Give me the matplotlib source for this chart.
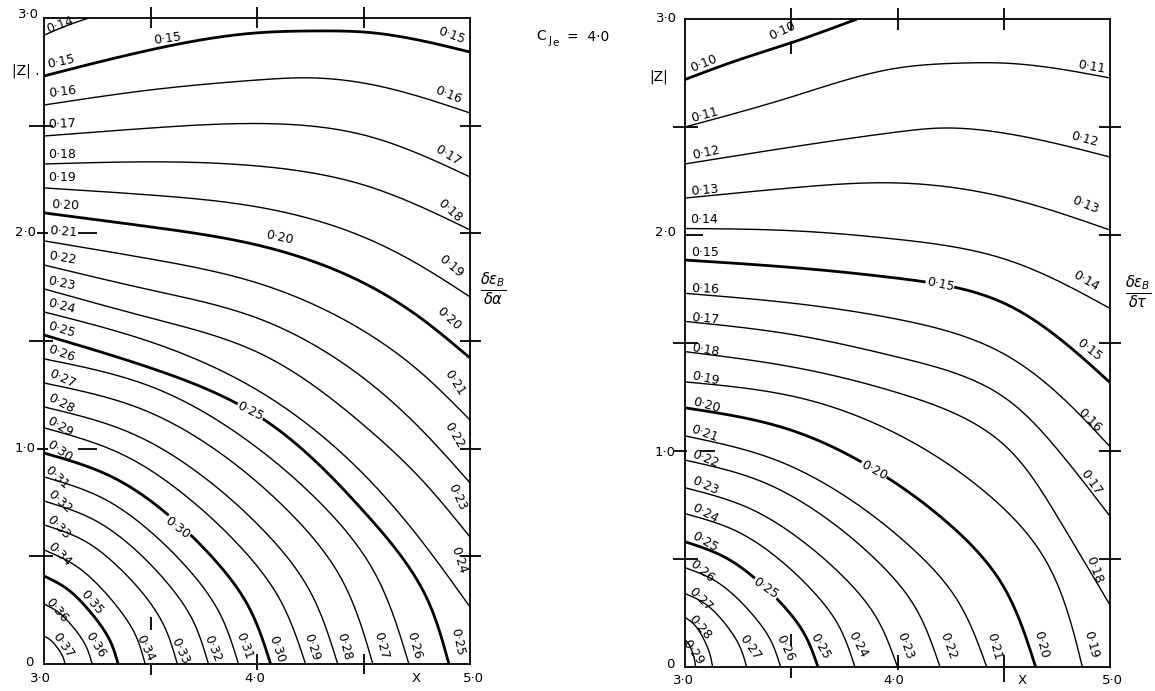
import numpy as np
import matplotlib
matplotlib.use("Agg")
import matplotlib.pyplot as plt

# ---------------------------------------------------------------------------
# Contour lines of d(eps_B)/d(alpha) (left) and d(eps_B)/d(tau) (right),
# C_Je = 4.0, over X = 3..5 and |Z| = 0..3.  Each level is traced by points
# (X, |Z|) along the curve.
# ---------------------------------------------------------------------------
LEFT_LEVELS = [0.14, 0.15, 0.16, 0.17, 0.18, 0.19, 0.20, 0.21, 0.22, 0.23,
               0.24, 0.25, 0.26, 0.27, 0.28, 0.29, 0.30, 0.31, 0.32, 0.33,
               0.34, 0.35, 0.36, 0.37]

LEFT_X = [
    [3.0, 3.1, 3.21],
    [3.0, 3.5, 4.0, 4.3, 4.5, 5.0],
    [3.0, 3.5, 4.0, 4.25, 4.5, 5.0],
    [3.0, 3.5, 4.0, 4.5, 5.0],
    [3.0, 3.5, 4.0, 4.5, 5.0],
    [3.0, 3.5, 4.0, 4.5, 4.75, 5.0],
    [3.0, 3.5, 4.0, 4.5, 4.75, 5.0],
    [3.0, 3.5, 4.0, 4.5, 4.75, 5.0],
    [3.0, 3.5, 4.0, 4.5, 4.75, 5.0],
    [3.0, 3.5, 4.0, 4.5, 4.75, 5.0],
    [3.0, 3.5, 4.0, 4.5, 4.75, 5.0],
    [3.0, 3.5, 4.0, 4.5, 4.8, 4.901],
    [3.0, 3.514, 3.942, 4.285, 4.542, 4.713],
    [3.0, 3.463, 3.849, 4.158, 4.390, 4.544],
    [3.0, 3.414, 3.758, 4.034, 4.241, 4.379],
    [3.0, 3.368, 3.675, 3.921, 4.105, 4.228],
    [3.0, 3.319, 3.585, 3.798, 3.958, 4.064],
    [3.0, 3.274, 3.502, 3.685, 3.822, 3.913],
    [3.0, 3.232, 3.425, 3.579, 3.695, 3.772],
    [3.0, 3.188, 3.344, 3.470, 3.563, 3.626],
    [3.0, 3.143, 3.261, 3.356, 3.428, 3.475],
    [3.0, 3.104, 3.191, 3.261, 3.313, 3.348],
    [3.0, 3.068, 3.124, 3.170, 3.203, 3.226],
    [3.0, 3.030, 3.054, 3.074, 3.089, 3.099],
]

LEFT_Z = [
    [2.92, 2.962, 3.0],
    [2.731, 2.852, 2.931, 2.940, 2.935, 2.842],
    [2.596, 2.666, 2.712, 2.722, 2.698, 2.559],
    [2.452, 2.489, 2.510, 2.457, 2.262],
    [2.322, 2.332, 2.313, 2.225, 2.016],
    [2.211, 2.178, 2.123, 1.983, 1.86, 1.705],
    [2.095, 2.030, 1.946, 1.770, 1.62, 1.421],
    [1.965, 1.881, 1.770, 1.547, 1.37, 1.133],
    [1.853, 1.737, 1.607, 1.328, 1.11, 0.841],
    [1.742, 1.607, 1.449, 1.110, 0.88, 0.590],
    [1.635, 1.496, 1.273, 0.882, 0.60, 0.265],
    [1.528, 1.375, 1.156, 0.71, 0.30, 0.0],
    [1.417, 1.284, 1.047, 0.760, 0.442, 0.0],
    [1.305, 1.182, 0.964, 0.699, 0.407, 0.0],
    [1.194, 1.070, 0.862, 0.617, 0.352, 0.0],
    [1.097, 0.973, 0.773, 0.545, 0.304, 0.0],
    [0.980, 0.869, 0.691, 0.487, 0.271, 0.0],
    [0.869, 0.771, 0.613, 0.432, 0.241, 0.0],
    [0.757, 0.671, 0.534, 0.376, 0.210, 0.0],
    [0.646, 0.573, 0.455, 0.321, 0.179, 0.0],
    [0.530, 0.460, 0.360, 0.250, 0.138, 0.0],
    [0.409, 0.352, 0.272, 0.187, 0.102, 0.0],
    [0.279, 0.240, 0.186, 0.128, 0.070, 0.0],
    [0.130, 0.112, 0.087, 0.060, 0.033, 0.0],
]

RIGHT_LEVELS = [0.10, 0.11, 0.12, 0.13, 0.14, 0.15, 0.16, 0.17, 0.18, 0.19,
                0.20, 0.21, 0.22, 0.23, 0.24, 0.25, 0.26, 0.27, 0.28, 0.29]

RIGHT_X = [
    [3.0, 3.25, 3.5, 3.81],
    [3.0, 3.5, 4.0, 4.3, 4.5, 5.0],
    [3.0, 3.5, 4.0, 4.2, 4.5, 5.0],
    [3.0, 3.5, 4.0, 4.5, 5.0],
    [3.0, 3.5, 4.0, 4.5, 4.75, 5.0],
    [3.0, 3.5, 4.0, 4.5, 4.75, 5.0],
    [3.0, 3.5, 4.0, 4.5, 4.75, 5.0],
    [3.0, 3.5, 4.0, 4.5, 4.75, 5.0],
    [3.0, 3.5, 4.0, 4.5, 4.75, 5.0],
    [3.0, 3.561, 4.029, 4.403, 4.683, 4.87],
    [3.0, 3.495, 3.908, 4.238, 4.485, 4.65],
    [3.0, 3.426, 3.781, 4.065, 4.278, 4.42],
    [3.0, 3.36, 3.66, 3.90, 4.08, 4.20],
    [3.0, 3.30, 3.55, 3.75, 3.90, 4.00],
    [3.0, 3.24, 3.44, 3.60, 3.72, 3.80],
    [3.0, 3.188, 3.344, 3.470, 3.563, 3.626],
    [3.0, 3.135, 3.248, 3.338, 3.405, 3.45],
    [3.0, 3.087, 3.160, 3.218, 3.261, 3.29],
    [3.0, 3.039, 3.072, 3.098, 3.117, 3.13],
    [3.0, 3.015, 3.028, 3.038, 3.045, 3.05],
]

RIGHT_Z = [
    [2.72, 2.81, 2.89, 3.0],
    [2.50, 2.639, 2.773, 2.796, 2.796, 2.727],
    [2.329, 2.407, 2.477, 2.495, 2.472, 2.361],
    [2.171, 2.218, 2.241, 2.176, 2.023],
    [2.03, 2.02, 1.98, 1.89, 1.79, 1.66],
    [1.884, 1.85, 1.80, 1.685, 1.53, 1.317],
    [1.73, 1.685, 1.61, 1.45, 1.27, 1.02],
    [1.60, 1.54, 1.435, 1.25, 1.01, 0.698],
    [1.46, 1.39, 1.27, 1.03, 0.70, 0.287],
    [1.32, 1.241, 1.063, 0.818, 0.517, 0.0],
    [1.20, 1.098, 0.904, 0.666, 0.395, 0.0],
    [1.07, 0.959, 0.773, 0.553, 0.315, 0.0],
    [0.958, 0.859, 0.692, 0.495, 0.282, 0.0],
    [0.83, 0.736, 0.585, 0.413, 0.230, 0.0],
    [0.71, 0.630, 0.501, 0.353, 0.197, 0.0],
    [0.58, 0.508, 0.398, 0.276, 0.151, 0.0],
    [0.46, 0.403, 0.316, 0.219, 0.120, 0.0],
    [0.34, 0.298, 0.234, 0.162, 0.088, 0.0],
    [0.23, 0.201, 0.158, 0.109, 0.060, 0.0],
    [0.125, 0.110, 0.086, 0.060, 0.033, 0.0],
]

W, H = 1155, 691
FS = 9


def smooth_curve(xs, zs, m=240):
    """Natural cubic spline through the points, chord-length parameter."""
    P = np.column_stack([xs, zs]).astype(float)
    n = len(P)
    if n < 3:
        return P[:, 0], P[:, 1]
    h = np.hypot(*np.diff(P, axis=0).T)
    t = np.concatenate([[0.0], np.cumsum(h)])
    A = np.zeros((n, n))
    rhs = np.zeros((n, 2))
    A[0, 0] = A[-1, -1] = 1.0
    for i in range(1, n - 1):
        A[i, i - 1] = h[i - 1]
        A[i, i] = 2.0 * (h[i - 1] + h[i])
        A[i, i + 1] = h[i]
        rhs[i] = 3.0 * ((P[i + 1] - P[i]) / h[i] - (P[i] - P[i - 1]) / h[i - 1])
    c = np.linalg.solve(A, rhs)
    hh = h[:, None]
    b = (P[1:] - P[:-1]) / hh - hh * (2.0 * c[:-1] + c[1:]) / 3.0
    d = (c[1:] - c[:-1]) / (3.0 * hh)
    tt = np.linspace(0.0, t[-1], m)
    idx = np.clip(np.searchsorted(t, tt, side="right") - 1, 0, n - 2)
    s = (tt - t[idx])[:, None]
    out = P[idx] + b[idx] * s + c[idx] * s ** 2 + d[idx] * s ** 3
    return out[:, 0], out[:, 1]


def fmt(v):
    return f"{v:.2f}".replace(".", "\u00b7")


def draw_levels(ax, levels, xs, zs):
    for lev, x, z in zip(levels, xs, zs):
        bold = round(lev * 100) % 5 == 0
        cx, cz = smooth_curve(x, z)
        ax.plot(cx, cz, color="black", lw=2.0 if bold else 1.0,
                solid_capstyle="butt", zorder=2)


def seg(ax, x0, x1, z0, z1, lw=1.3):
    ax.plot([x0, x1], [z0, z1], color="black", lw=lw, clip_on=False,
            solid_capstyle="butt", zorder=3)


def put(ax, x, z, s, rot=0, boxed=False):
    kw = dict(ha="center", va="center", rotation=rot, fontsize=FS,
              rotation_mode="anchor", zorder=4)
    if boxed:
        kw["bbox"] = dict(boxstyle="square,pad=0.05", fc="white", ec="none")
    ax.text(x, z, s, **kw)


def ftext(px, py, s, size=9.5, **kw):
    fig.text(px / W, 1 - py / H, s, ha="center", va="center",
             fontsize=size, **kw)


plt.rcParams["font.family"] = ["DejaVu Sans"]
plt.rcParams["mathtext.fontset"] = "dejavusans"

fig = plt.figure(figsize=(W / 100, H / 100), dpi=100)
fig.patch.set_facecolor("white")

axL = fig.add_axes([44 / W, 1 - 664 / H, (470 - 44) / W, (664 - 18) / H])
axR = fig.add_axes([685 / W, 1 - 667 / H, (1110 - 685) / W, (667 - 19) / H])

for ax in (axL, axR):
    ax.set_xlim(3.0, 5.0)
    ax.set_ylim(0.0, 3.0)
    ax.set_xticks([])
    ax.set_yticks([])
    for sp in ax.spines.values():
        sp.set_linewidth(1.3)
        sp.set_color("black")

draw_levels(axL, LEFT_LEVELS, LEFT_X, LEFT_Z)
draw_levels(axR, RIGHT_LEVELS, RIGHT_X, RIGHT_Z)

# ---- tick marks, left panel ----
for xv in (3.5, 4.0, 4.5):
    seg(axL, xv, xv, 2.955, 3.05)
for zv in (0.5, 1.5, 2.5):
    seg(axL, 2.93, 3.04, zv, zv)
for zv in (1.0, 2.0):
    seg(axL, 2.965, 3.02, zv, zv)
    seg(axL, 3.16, 3.25, zv, zv)
for zv in (0.5, 1.0, 1.5, 2.0, 2.5):
    seg(axL, 4.955, 5.05, zv, zv)
seg(axL, 3.5, 3.5, 0.16, 0.22)
seg(axL, 3.5, 3.5, -0.05, 0.0)
seg(axL, 4.0, 4.0, -0.03, 0.045)
seg(axL, 4.5, 4.5, -0.045, 0.045)

# ---- tick marks, right panel ----
for xv in (3.5, 4.0, 4.5):
    seg(axR, xv, xv, 2.95, 3.05)
seg(axR, 3.5, 3.5, 2.84, 2.90)
for zv in (0.5, 1.5, 2.5):
    seg(axR, 2.945, 3.06, zv, zv)
seg(axR, 3.0, 3.085, 2.0, 2.0)
seg(axR, 2.945, 3.01, 1.0, 1.0)
seg(axR, 3.07, 3.14, 1.0, 1.0)
for zv in (0.5, 1.0, 1.5, 2.0, 2.5):
    seg(axR, 4.95, 5.05, zv, zv)
seg(axR, 3.5, 3.5, 0.097, 0.153)
seg(axR, 3.5, 3.5, -0.05, 0.0)
seg(axR, 4.0, 4.0, -0.014, 0.056)
seg(axR, 4.5, 4.5, -0.07, 0.056)

# ---- contour labels, left panel ----
left_edge = [
    (0.14, 3.075, 2.968, 20), (0.15, 3.080, 2.796, 12), (0.16, 3.089, 2.657, 7),
    (0.17, 3.085, 2.508, 2), (0.18, 3.085, 2.364, 0), (0.19, 3.085, 2.257, 0),
    (0.20, 3.099, 2.132, -3), (0.21, 3.089, 2.006, -5), (0.22, 3.085, 1.886, -10),
    (0.23, 3.080, 1.765, -12), (0.24, 3.080, 1.663, -15), (0.25, 3.080, 1.551, -17),
    (0.26, 3.080, 1.444, -20), (0.27, 3.085, 1.324, -25), (0.28, 3.080, 1.208, -28),
    (0.29, 3.075, 1.101, -30), (0.30, 3.075, 0.99, -35), (0.31, 3.060, 0.864, -42),
    (0.32, 3.075, 0.752, -42), (0.33, 3.066, 0.636, -45), (0.34, 3.071, 0.511, -45),
    (0.35, 3.225, 0.285, -50), (0.36, 3.061, 0.251, -50), (0.37, 3.089, 0.088, -55),
]
left_bottom = [
    (0.36, 3.240, 0.088, -58), (0.34, 3.475, 0.074, -65), (0.33, 3.640, 0.060, -65),
    (0.32, 3.791, 0.074, -68), (0.31, 3.941, 0.084, -70), (0.30, 4.092, 0.070, -72),
    (0.29, 4.256, 0.079, -72), (0.28, 4.407, 0.079, -75), (0.27, 4.581, 0.084, -75),
    (0.26, 4.736, 0.088, -75), (0.25, 4.939, 0.102, -78),
]
left_right = [
    (0.15, 4.911, 2.917, -20), (0.16, 4.896, 2.643, -22), (0.17, 4.896, 2.364, -32),
    (0.18, 4.906, 2.104, -42), (0.19, 4.911, 1.849, -40), (0.20, 4.901, 1.602, -42),
    (0.21, 4.929, 1.305, -57), (0.22, 4.925, 1.064, -60), (0.23, 4.939, 0.776, -65),
    (0.24, 4.948, 0.483, -72),
]
for lev, x, z, r in left_edge + left_bottom + left_right:
    put(axL, x, z, fmt(lev), r)
put(axL, 3.579, 2.903, fmt(0.15), 8)
put(axL, 4.106, 1.983, fmt(0.20), -12)
put(axL, 3.969, 1.175, fmt(0.25), -27, boxed=True)
put(axL, 3.626, 0.632, fmt(0.30), -38, boxed=True)

# ---- contour labels, right panel ----
right_edge = [
    (0.10, 3.089, 2.796, 22), (0.11, 3.094, 2.556, 15), (0.12, 3.099, 2.380, 12),
    (0.13, 3.094, 2.208, 5), (0.14, 3.089, 2.074, 0), (0.15, 3.094, 1.917, 0),
    (0.16, 3.094, 1.750, -2), (0.17, 3.094, 1.611, -5), (0.18, 3.094, 1.468, -10),
    (0.19, 3.094, 1.338, -12), (0.20, 3.099, 1.213, -15), (0.21, 3.089, 1.083, -20),
    (0.22, 3.094, 0.963, -22), (0.23, 3.094, 0.838, -25), (0.24, 3.094, 0.713, -28),
    (0.25, 3.094, 0.579, -30), (0.26, 3.080, 0.444, -40), (0.27, 3.075, 0.315, -45),
    (0.28, 3.071, 0.181, -50), (0.29, 3.036, 0.069, -55),
]
right_bottom = [
    (0.27, 3.306, 0.093, -55), (0.26, 3.471, 0.088, -65), (0.25, 3.635, 0.097, -60),
    (0.24, 3.814, 0.102, -62), (0.23, 4.035, 0.097, -70), (0.22, 4.238, 0.097, -70),
    (0.21, 4.454, 0.093, -75), (0.20, 4.675, 0.102, -75), (0.19, 4.911, 0.106, -75),
]
right_right = [
    (0.11, 4.911, 2.778, -10), (0.12, 4.882, 2.444, -15), (0.13, 4.882, 2.139, -22),
    (0.14, 4.887, 1.787, -30), (0.15, 4.901, 1.468, -38), (0.16, 4.901, 1.144, -45),
    (0.17, 4.911, 0.856, -55), (0.18, 4.925, 0.449, -70),
]
for lev, x, z, r in right_edge + right_bottom + right_right:
    put(axR, x, z, fmt(lev), r)
put(axR, 3.456, 2.944, fmt(0.10), 25)
put(axR, 4.200, 1.773, fmt(0.15), -12, boxed=True)
put(axR, 3.889, 0.912, fmt(0.20), -28, boxed=True)
put(axR, 3.381, 0.366, fmt(0.25), -35, boxed=True)

# ---- axis numbers and titles ----
ftext(28, 15, "3\u00b70")
ftext(25, 232, "2\u00b70")
ftext(25, 449, "1\u00b70")
ftext(29, 663, "0")
ftext(40, 679, "3\u00b70")
ftext(255, 679, "4\u00b70")
ftext(416, 679, "X")
ftext(473, 679, "5\u00b70")
ftext(26, 71, "|Z| .", size=10)
ftext(493, 289, r"$\frac{\delta\varepsilon_B}{\delta\alpha}$", size=15)

# C_Je = 4.0
ftext(541, 36, "C", size=10)
ftext(550, 41, "J", size=7.5)
ftext(556, 43, "e", size=7.5)
ftext(588, 37, "=  4\u00b70", size=10)

ftext(666, 19, "3\u00b70")
ftext(666, 233, "2\u00b70")
ftext(665, 452, "1\u00b70")
ftext(670, 664, "0")
ftext(683, 681, "3\u00b70")
ftext(894, 681, "4\u00b70")
ftext(1022, 681, "X")
ftext(1112, 681, "5\u00b70")
ftext(659, 77, "|Z|", size=10)
ftext(1138, 292, r"$\frac{\delta\varepsilon_B}{\delta\tau}$", size=15)

fig.savefig("out.png", dpi=100, facecolor="white")
